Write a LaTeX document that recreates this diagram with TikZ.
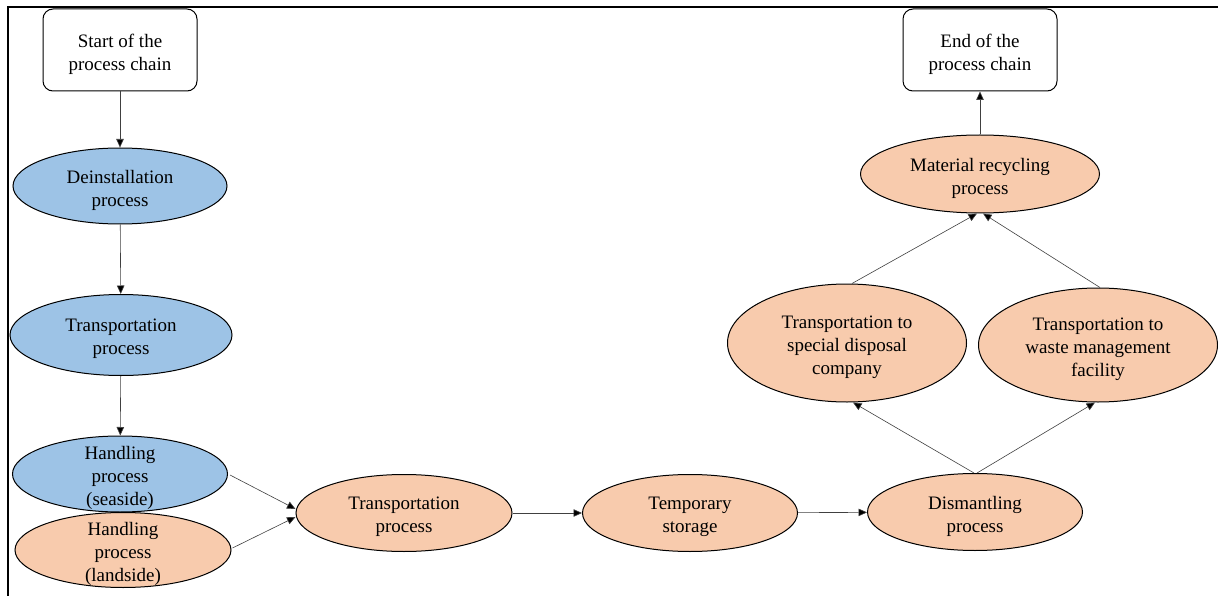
\documentclass[tikz,border=0pt]{standalone}
\usepackage{fontspec}
\setmainfont{Liberation Serif}
\usetikzlibrary{shapes.geometric,arrows.meta}
\definecolor{bluefill}{HTML}{9DC3E6}
\definecolor{orangefill}{HTML}{F8CBAD}
\definecolor{linegray}{HTML}{404040}
\begin{document}
\begin{tikzpicture}[x=1pt,y=-1pt,
  every node/.style={font=\fontsize{19}{23}\selectfont, align=center, text=black},
  txt/.style={label={[yshift=-4pt, inner sep=0pt]center:{#1}}},
  termbox/.style={draw=black, line width=1pt, rounded corners=10pt, minimum width=154pt, minimum height=82pt, inner sep=0pt},
  procell/.style={ellipse, draw=black, line width=1pt, inner sep=0pt},
  blueproc/.style={procell, fill=bluefill},
  orangeproc/.style={procell, fill=orangefill},
  conn/.style={draw=linegray, line width=0.6pt, -{Triangle[width=7.5pt,length=8.5pt,fill=black]}}
]
\useasboundingbox (0,0) rectangle (1218,596);
\draw[line width=2pt] (8,596) -- (8,7) -- (1218,7);

\node[termbox, txt={Start of the\\process chain}] (start) at (120,50) {};
\node[termbox, txt={End of the\\process chain}] (end) at (980,50) {};

\node[blueproc, minimum width=214pt, minimum height=76pt, txt={Deinstallation\\process}] (deinst) at (120,186) {};
\node[blueproc, minimum width=222pt, minimum height=81pt, txt={Transportation\\process}] (trans1) at (121,335) {};
\node[blueproc, minimum width=215pt, minimum height=76pt, txt={Handling\\process\\(seaside)}] (sea) at (120,474) {};
\node[orangeproc, minimum width=216pt, minimum height=75pt, txt={Handling\\process\\(landside)}] (land) at (123,550) {};

\node[orangeproc, minimum width=216pt, minimum height=77pt, txt={Transportation\\process}] (trans2) at (404,513) {};
\node[orangeproc, minimum width=215pt, minimum height=77pt, txt={Temporary\\storage}] (temp) at (690,513) {};
\node[orangeproc, minimum width=215pt, minimum height=77pt, txt={Dismantling\\process}] (dis) at (975,512) {};

\node[orangeproc, minimum width=239pt, minimum height=118pt, txt={Transportation to\\special disposal\\company}] (spec) at (847,343) {};
\node[orangeproc, minimum width=239pt, minimum height=114pt, txt={Transportation to\\waste management\\facility}] (waste) at (1098,345) {};
\node[orangeproc, minimum width=239pt, minimum height=78pt, txt={Material recycling\\process}] (mat) at (980,174) {};

\draw[conn] (start) -- (deinst);
\draw[conn] (deinst) -- (trans1);
\draw[conn] (trans1) -- (sea);
\draw[conn] ([xshift=2pt,yshift=-1pt]sea.east) -- ([yshift=4pt]trans2.west);
\draw[conn] ([xshift=1pt,yshift=2pt]land.east) -- ([yshift=-4pt]trans2.west);
\draw[conn] (trans2) -- (temp);
\draw[conn] (temp) -- (dis);
\draw[conn] ([xshift=-1pt]dis.north) -- ([xshift=6pt]spec.south);
\draw[conn] ([xshift=2pt]dis.north) -- ([xshift=-3pt]waste.south);
\draw[conn] ([xshift=5pt]spec.north) -- ([xshift=-3pt]mat.south);
\draw[conn] ([xshift=2pt]waste.north) -- ([xshift=3pt]mat.south);
\draw[conn] (mat) -- (end);
\end{tikzpicture}
\end{document}
